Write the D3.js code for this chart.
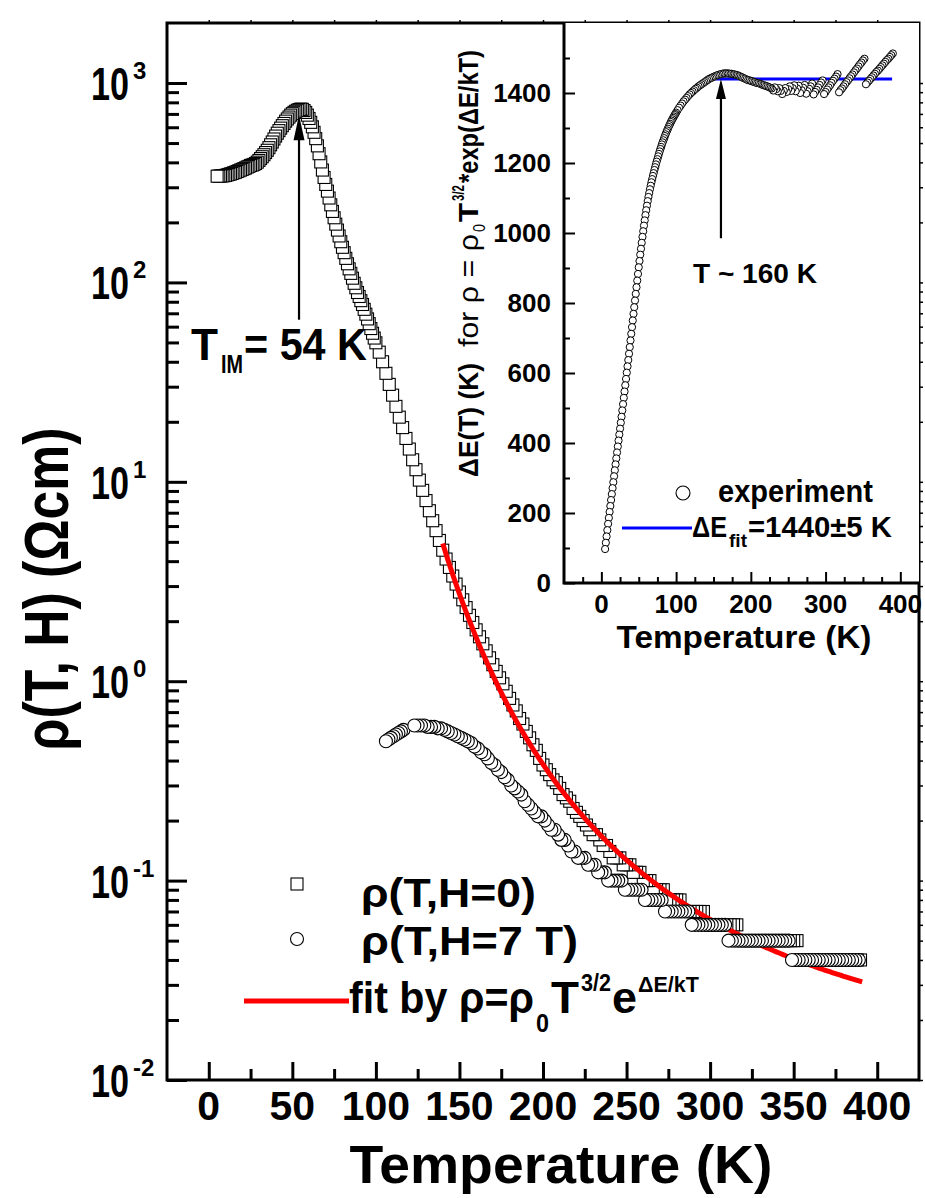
<!DOCTYPE html>
<html>
<head>
<meta charset="utf-8">
<script src="https://cdn.jsdelivr.net/npm/d3@7"></script>
<style>
  html, body { margin: 0; padding: 0; background: #fff; }
  svg text { font-family: "Liberation Sans", Arial, Helvetica, sans-serif; font-weight: bold; fill: #000; }
</style>
</head>
<body>
<svg id="chart" width="925" height="1198"></svg>
<script>
// ---------------- measured data ----------------
// Zero-field resistivity sweep (K, Ohm cm)
const tempH0 = [
  5,6,7,8,9,10,11,12,13,14,15,16,17,18,19,20,21,22,23,24,25,26,27,28,29,30,
  31,32,33,34,35,36,37,38,39,40,41,42,43,44,45,46,47,48,49,50,51,52,53,54,55,
  56,57,58,59,60,61,62,63,64,65,66,67,68,69,70,71,72,73,74,75,76,77,78,79,80,
  81,82,83,84,85,86,87,88,89,90,91,92,93,94,95,96,97,98,99,100,
  102,104,106,108,110,112,114,116,118,120,122,124,126,128,130,132,134,136,138,140,
  142,144,146,148,150,152,154,156,158,160,162,164,166,168,170,172,174,176,178,180,
  182,184,186,188,190,192,194,196,198,200,202,204,206,208,210,212,214,216,218,220,
  222,224,226,228,230,232,234,236,238,240,242,244,246,248,250,252,254,256,258,260,
  262,264,266,268,270,272,274,276,278,280,282,284,286,288,290,292,294,296,298,300,
  302,304,306,308,310,312,314,316,318,320,322,324,326,328,330,332,334,336,338,340,
  342,344,346,348,350,352,354,356,358,360,362,364,366,368,370,372,374,376,378,380,
  382,384,386,388,390
];
const rhoH0 = [
  341,341,342,342,343,344,346,348,350,352,355,357,360,363,366,369,372,375,379,382,
  386,388,391,395,401,409,418,427,437,448,460,474,490,506,524,542,560,577,594,611,
  627,644,660,675,690,702,713,722,730,
  736,740,738,728,712,690,664,635,603,566,526,484,442,402,366,336,310,287,265,245,
  227,211,196,183,171,160,150,141,132,124,117,111,105,99,94,89,85,81,77.5,73.3,
  69.3,65.6,62.1,58.7,55.6,52.6,49.8,
  44.7,40.0,35.0,30.8,27.2,23.9,21.1,18.7,16.5,14.6,
  12.9,11.5,10.2,9.06,8.05,7.16,6.38,5.69,5.08,4.54,
  4.10,3.72,3.37,3.07,2.80,2.56,2.34,2.14,1.97,1.81,
  1.67,1.54,1.42,1.31,1.21,1.12,1.04,0.97,0.89,0.82,
  0.76,0.71,0.65,0.61,0.56,0.52,0.48,0.45,0.41,0.38,
  0.36,0.34,0.32,0.31,0.29,0.27,0.26,0.25,0.23,0.22,
  0.21,0.20,0.19,0.18,0.17,0.17,0.16,0.15,0.15,0.14,
  0.13,0.13,0.13,0.12,0.12,0.12,0.11,0.11,0.11,0.10,
  0.10,0.10,0.09,0.09,0.09,0.09,0.08,0.08,0.08,0.08,
  0.08,0.07,0.07,0.07,0.07,0.07,0.07,0.07,0.06,0.06,
  0.06,0.06,0.06,0.06,0.06,0.06,0.06,0.06,0.05,0.05,
  0.05,0.05,0.05,0.05,0.05,0.05,0.05,0.05,0.05,0.05,
  0.05,0.05,0.05,0.05,0.05,0.05,0.04,0.04,0.04,0.04,
  0.04,0.04,0.04,0.04,0.04,0.04,0.04,0.04,0.04,0.04,
  0.04,0.04,0.04,0.04,0.04
];

// 7 T resistivity: short first run, then the full sweep
const tempH7a = [106,107.5,109,110.5,112,113.5,115,116.5];
const rhoH7a  = [0.50,0.51,0.52,0.53,0.54,0.55,0.56,0.57];
const tempH7b = [
  123,125,127,129,131,133,135,137,139,141,143,145,147,149,151,153,155,157,159,161,
  163,165,167,169,171,173,175,177,179,181,183,185,187,189,191,193,195,197,199,201,
  203,205,207,209,211,213,215,217,219,221,223,225,227,229,231,233,235,237,239,241,
  243,245,247,249,251,253,255,257,259,261,263,265,267,269,271,273,275,277,279,281,
  283,285,287,289,291,293,295,297,299,301,303,305,307,309,311,313,315,317,319,321,
  323,325,327,329,331,333,335,337,339,341,343,345,347,349,351,353,355,357,359,361,
  363,365,367,369,371,373,375,377,379,381,383,385,387,389
];
const rhoH7b = [
  0.60,0.60,0.60,0.60,0.59,0.59,0.59,0.58,0.58,0.57,
  0.56,0.55,0.54,0.53,0.52,0.51,0.50,0.49,0.47,0.46,
  0.44,0.43,0.41,0.39,0.38,0.36,0.35,0.33,0.32,0.30,
  0.29,0.28,0.27,0.25,0.24,0.23,0.22,0.21,0.21,0.20,
  0.19,0.18,0.18,0.17,0.16,0.16,0.15,0.14,0.14,0.13,
  0.13,0.13,0.12,0.12,0.12,0.11,0.11,0.11,0.10,0.10,
  0.10,0.10,0.10,0.09,0.09,0.09,0.09,0.09,0.09,0.08,
  0.08,0.08,0.08,0.08,0.08,0.07,0.07,0.07,0.07,0.07,
  0.07,0.07,0.07,0.06,0.06,0.06,0.06,0.06,0.06,0.06,
  0.06,0.06,0.06,0.06,0.05,0.05,0.05,0.05,0.05,0.05,
  0.05,0.05,0.05,0.05,0.05,0.05,0.05,0.05,0.05,0.05,
  0.05,0.05,0.05,0.04,0.04,0.04,0.04,0.04,0.04,0.04,
  0.04,0.04,0.04,0.04,0.04,0.04,0.04,0.04,0.04,0.04,
  0.04,0.04,0.04,0.04
];

// Activation energy extracted point by point from the zero-field sweep (K)
const gapTemp = tempH0;
const gapK = [
  97,115,133,151,169,186,203,220,237,254,271,288,305,322,339,356,373,390,407,424,
  441,458,475,493,511,529,547,565,583,601,619,637,655,674,693,712,731,750,769,788,
  807,826,845,864,883,902,920,938,955,972,989,
  1005,1021,1036,1051,1065,1078,1091,1103,1114,1125,1135,1145,1154,1163,1171,1180,
  1188,1196,1204,1211,1219,1226,1233,1240,1246,1253,1259,1265,1271,1277,1282,1288,
  1293,1298,1303,1308,1312,1317,1321,1325,1329,1333,1337,1340,1344,
  1351,1358,1364,1370,1376,1381,1386,1391,1396,1400,1404,1408,1412,1415,1419,1422,
  1425,1428,1431,1434,1437,1440,1442,1444,1446,1448,1450,1451,1453,1454,1455,1456,
  1456,1456,1456,1455,1455,1454,1453,
  1452,1451,1449,1447,1445,1443,1441,1439,1437,1436,1435,1433,1432,1430,1429,1428,
  1427,1425,1423,1422,1420,1419,1417,1415,1413,1407,1416,1411,1405,1414,1406,
  1397,1406,1414,1403,1411,1419,1406,1414,1422,1405,1413,1421,1400,1408,1415,1423,
  1398,1405,1412,1419,1427,1396,1403,1409,1416,1423,1430,1436,1397,1403,1410,1416,
  1422,1429,1435,1441,1447,1454,1402,1408,1413,1419,1425,1431,1436,1442,1448,1453,
  1459,1465,1470,1476,1482,1487,1493,1498,1425,1430,1435,1440,1445,1450,1455,1460,
  1464,1469,1474,1479,1484,1489,1494,1498,1503,1508,1513
];

// Fit parameters: rho = rho0 * T^(3/2) * exp(dE/T)
const fitRho0 = 1.011e-7;   // Ohm cm K^-3/2
const fitGap = 1440;        // K
const fitRange = [140, 391];
const gapFitRange = [139, 389];
const gapFitError = 5;
const peakTemp = 54;        // T_IM
const plateauTemp = 160;

// axis ticks
const xMajor = [0, 50, 100, 150, 200, 250, 300, 350, 400];
const xMinor = [25, 75, 125, 175, 225, 275, 325, 375];
const yMajor = [0.01, 0.1, 1, 10, 100, 1000];
const yMinor = [];
[-2, -1, 0, 1, 2].forEach(e => { for (let k = 2; k <= 9; k++) yMinor.push(k * Math.pow(10, e)); });
const xiMajor = [0, 100, 200, 300, 400];
const xiMinor = [-25, 25, 50, 75, 125, 150, 175, 225, 250, 275, 325, 350, 375];
const yiMajor = [0, 200, 400, 600, 800, 1000, 1200, 1400];
const yiMinor = [100, 300, 500, 700, 900, 1100, 1300, 1500];

// ---------------- drawing ----------------
const svg = d3.select('#chart');
const main = {left: 167, right: 919, top: 23, bottom: 1080};
const x = d3.scaleLinear().domain([-25, 425]).range([main.left, main.right]);
const y = d3.scaleLog().domain([0.01, 2000]).range([main.bottom, main.top]);

const ins = {left: 564, right: 919, top: 23, bottom: 583};
const xi = d3.scaleLinear().domain([-50, 425]).range([ins.left, ins.right]);
const yi = d3.scaleLinear().domain([0, 1600]).range([ins.bottom, ins.top]);

// Text placed at (x, y); when a width is given the glyphs are squeezed
// horizontally (narrow, Origin-style lettering) about the anchor point.
function label(parent, str, o) {
  const t = parent.append('text')
    .attr('x', 0).attr('y', 0)
    .attr('font-size', o.size)
    .attr('text-anchor', o.anchor || 'start')
    .style('font-weight', o.weight || 'bold')
    .text(str);
  let sx = 1;
  if (o.width) {
    const natural = t.node().getComputedTextLength();
    if (natural > 0) sx = o.width / natural;
  }
  t.attr('transform', `translate(${o.x || 0},${o.y || 0})${o.rotate ? ` rotate(${o.rotate})` : ''} scale(${sx},1)`);
  return t;
}

function styleAxis(g, w) {
  g.selectAll('.domain').remove();
  g.selectAll('line').attr('stroke', '#000').attr('stroke-width', w);
}

const zip = (ts, vs) => ts.map((t, i) => ({t, v: vs[i]}));
const byTempDesc = (a, b) => b.t - a.t;

// zero-field squares (drawn from high T to low T)
const h0 = zip(tempH0, rhoH0).sort(byTempDesc);
svg.append('g').selectAll('rect').data(h0).join('rect')
  .attr('x', d => x(d.t) - 6).attr('y', d => y(d.v) - 6)
  .attr('width', 12).attr('height', 12)
  .attr('fill', '#fff').attr('stroke', '#000').attr('stroke-width', 1.1);

// fit curve
const fitPts = d3.range(fitRange[0], fitRange[1] + 0.01, 1).map(t => ({t, v: fitRho0 * Math.pow(t, 1.5) * Math.exp(fitGap / t)}));
svg.append('path').datum(fitPts)
  .attr('d', d3.line().x(d => x(d.t)).y(d => y(d.v)).curve(d3.curveMonotoneX))
  .attr('fill', 'none').attr('stroke', '#ff0000').attr('stroke-width', 5);

// 7 T circles
const h7 = zip(tempH7a, rhoH7a).sort(byTempDesc).concat(zip(tempH7b, rhoH7b).sort(byTempDesc));
svg.append('g').selectAll('circle').data(h7).join('circle')
  .attr('cx', d => x(d.t)).attr('cy', d => y(d.v)).attr('r', 6.5)
  .attr('fill', '#fff').attr('stroke', '#000').attr('stroke-width', 1.1);

// main axes: ticks inward on bottom/left, short outward marks on top/right
const axB = svg.append('g').attr('transform', `translate(0,${main.bottom})`);
axB.append('g').call(d3.axisBottom(x).tickValues(xMajor).tickSize(-18).tickSizeOuter(0).tickFormat(''));
axB.append('g').call(d3.axisBottom(x).tickValues(xMinor).tickSize(-11).tickSizeOuter(0).tickFormat(''));
styleAxis(axB, 3);
const axL = svg.append('g').attr('transform', `translate(${main.left},0)`);
axL.append('g').call(d3.axisLeft(y).tickValues(yMajor).tickSize(-20).tickSizeOuter(0).tickFormat(''));
axL.append('g').call(d3.axisLeft(y).tickValues(yMinor).tickSize(-12).tickSizeOuter(0).tickFormat(''));
styleAxis(axL, 3);
const axT = svg.append('g').attr('transform', `translate(0,${main.top})`);
axT.call(d3.axisTop(x).tickValues(xMajor.concat(xMinor)).tickSize(3).tickSizeOuter(0).tickFormat(''));
styleAxis(axT, 1.5);
const axR = svg.append('g').attr('transform', `translate(${main.right},0)`);
axR.call(d3.axisRight(y).tickValues(yMajor.concat(yMinor)).tickSize(4).tickSizeOuter(0).tickFormat(''));
styleAxis(axR, 1.5);

svg.append('rect')
  .attr('x', main.left).attr('y', main.top)
  .attr('width', main.right - main.left).attr('height', main.bottom - main.top)
  .attr('fill', 'none').attr('stroke', '#000').attr('stroke-width', 3);

// main tick labels
xMajor.forEach(v => label(svg, String(v), {x: x(v), y: 1120, size: 41, anchor: 'middle'}));
yMajor.forEach(v => {
  const e = Math.round(Math.log10(v));
  label(svg, '10', {x: 129, y: y(v) + 17, size: 46, anchor: 'end', width: 38});
  label(svg, e < 0 ? '-' + (-e) : String(e), {x: 133, y: y(v) - 4, size: 24});
});

// main axis titles
label(svg, 'Temperature (K)', {x: 561, y: 1183, size: 54, anchor: 'middle', width: 423});
label(svg, 'ρ(T, H) (Ωcm)', {x: 68, y: 589, rotate: -90, size: 62, anchor: 'middle', width: 323});

// T_IM annotation
const arrow = (g, px, yTail, yTip, head, half, w) => {
  g.append('line').attr('x1', px).attr('x2', px).attr('y1', yTail).attr('y2', yTip + head - 2)
    .attr('stroke', '#000').attr('stroke-width', w);
  g.append('path').attr('d', `M${px},${yTip} L${px - half},${yTip + head} L${px + half},${yTip + head} Z`).attr('fill', '#000');
};
arrow(svg, x(peakTemp), y(65), y(690), 25, 5.5, 2.2);
label(svg, 'T', {x: 191, y: 360, size: 45, width: 27});
label(svg, 'IM', {x: 221, y: 373, size: 26, width: 22});
label(svg, '= ' + peakTemp + ' K', {x: 244, y: 360, size: 45, width: 123});

// main legend
svg.append('rect').attr('x', 291).attr('y', 878).attr('width', 12).attr('height', 12)
  .attr('fill', '#fff').attr('stroke', '#000').attr('stroke-width', 1.1);
label(svg, 'ρ(T,H=0)', {x: 361, y: 907, size: 40, width: 175});
svg.append('circle').attr('cx', 297).attr('cy', 939).attr('r', 6.5)
  .attr('fill', '#fff').attr('stroke', '#000').attr('stroke-width', 1.1);
label(svg, 'ρ(T,H=7 T)', {x: 361, y: 955, size: 40, width: 217});
svg.append('line').attr('x1', 244).attr('x2', 349).attr('y1', 1001).attr('y2', 1001)
  .attr('stroke', '#ff0000').attr('stroke-width', 5);
label(svg, 'fit by ρ=ρ', {x: 349, y: 1013, size: 45, width: 185});
label(svg, '0', {x: 536, y: 1032, size: 26, width: 13});
label(svg, 'T', {x: 551, y: 1013, size: 45, width: 28});
label(svg, '3/2', {x: 581, y: 991, size: 24, width: 30});
label(svg, 'e', {x: 612, y: 1013, size: 45, width: 25});
label(svg, 'ΔE/kT', {x: 638, y: 992, size: 22, width: 61});

// ---------------- inset ----------------
const gi = svg.append('g');
gi.append('rect').attr('x', ins.left).attr('y', ins.top)
  .attr('width', ins.right - ins.left).attr('height', ins.bottom - ins.top)
  .attr('fill', '#fff');

// fit level
gi.append('line')
  .attr('x1', xi(gapFitRange[0])).attr('x2', xi(gapFitRange[1]))
  .attr('y1', yi(fitGap)).attr('y2', yi(fitGap))
  .attr('stroke', '#0000ff').attr('stroke-width', 3);

const gap = zip(gapTemp, gapK).sort(byTempDesc);
gi.append('g').selectAll('circle').data(gap).join('circle')
  .attr('cx', d => xi(d.t)).attr('cy', d => yi(d.v)).attr('r', 3.6)
  .attr('fill', '#fff').attr('stroke', '#000').attr('stroke-width', 1);

const iaB = gi.append('g').attr('transform', `translate(0,${ins.bottom})`);
iaB.append('g').call(d3.axisBottom(xi).tickValues(xiMajor).tickSize(-11).tickSizeOuter(0).tickFormat(''));
iaB.append('g').call(d3.axisBottom(xi).tickValues(xiMinor).tickSize(-6).tickSizeOuter(0).tickFormat(''));
styleAxis(iaB, 2);
const iaL = gi.append('g').attr('transform', `translate(${ins.left},0)`);
iaL.append('g').call(d3.axisLeft(yi).tickValues(yiMajor).tickSize(-11).tickSizeOuter(0).tickFormat(''));
iaL.append('g').call(d3.axisLeft(yi).tickValues(yiMinor).tickSize(-6).tickSizeOuter(0).tickFormat(''));
styleAxis(iaL, 2);
gi.append('path')
  .attr('d', `M${ins.left},${ins.top} V${ins.bottom} H${ins.right}`)
  .attr('fill', 'none').attr('stroke', '#000').attr('stroke-width', 3);

yiMajor.forEach(v => label(gi, String(v), {x: 551, y: yi(v) + 9, size: 26, anchor: 'end'}));
xiMajor.forEach(v => label(gi, String(v), {x: xi(v), y: 613, size: 26, anchor: 'middle'}));
label(gi, 'Temperature (K)', {x: 744, y: 648, size: 32, anchor: 'middle', width: 255});

// inset y title (rotated, read bottom to top)
const yt = gi.append('g').attr('transform', 'translate(478,477) rotate(-90)');
label(yt, 'ΔE(T) (K)', {x: 0, y: 0, size: 28, width: 114});
label(yt, 'for ρ = ρ', {x: 130, y: 0, size: 28, width: 113, weight: 'normal'});
label(yt, '0', {x: 245, y: 7, size: 17, width: 8, weight: 'normal'});
label(yt, 'T', {x: 255, y: 0, size: 28, width: 19});
label(yt, '3/2', {x: 276, y: -14, size: 17, width: 16});
label(yt, '*exp(ΔE/kT)', {x: 294, y: 0, size: 28, width: 133});

// inset annotation
arrow(gi, xi(plateauTemp), yi(985), yi(fitGap), 20, 5, 2.2);
label(gi, 'T ~ ' + plateauTemp + ' K', {x: 693, y: 283, size: 28, width: 124});

// inset legend
gi.append('circle').attr('cx', 683).attr('cy', 493).attr('r', 7)
  .attr('fill', '#fff').attr('stroke', '#000').attr('stroke-width', 1.1);
label(gi, 'experiment', {x: 718, y: 502, size: 32, width: 155});
gi.append('line').attr('x1', 622).attr('x2', 692).attr('y1', 528).attr('y2', 528)
  .attr('stroke', '#0000ff').attr('stroke-width', 3);
label(gi, 'ΔE', {x: 692, y: 537, size: 30, width: 35});
label(gi, 'fit', {x: 729, y: 547, size: 18, width: 18});
label(gi, '=' + fitGap + '±' + gapFitError + ' K', {x: 748, y: 537, size: 30, width: 144});
</script>
</body>
</html>
